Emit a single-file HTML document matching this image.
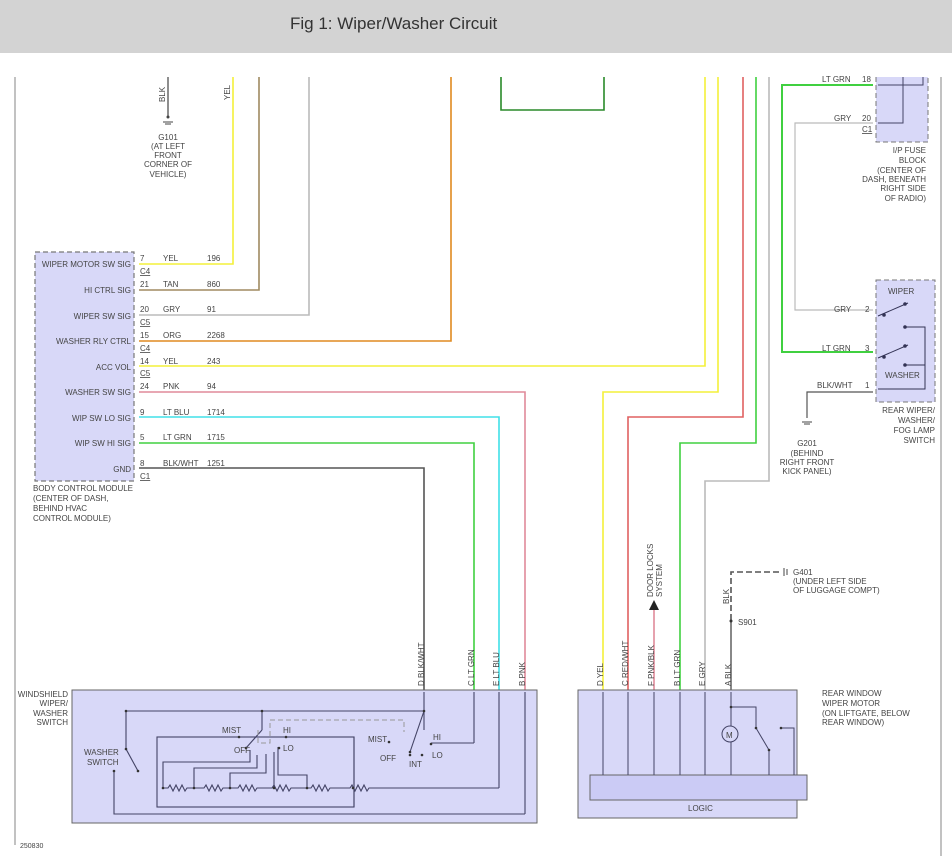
<!DOCTYPE html>
<html><head><meta charset="utf-8"><style>
html,body{margin:0;padding:0;background:#fff}
svg{display:block}
text{font-family:"Liberation Sans",sans-serif;font-size:8px;fill:#444}
</style></head><body>
<svg width="952" height="856" viewBox="0 0 952 856" xmlns="http://www.w3.org/2000/svg">
<rect x="0" y="0" width="952" height="53" fill="#d3d3d3"/>
<text x="290" y="29" style="font-size:17px;fill:#333">Fig 1: Wiper/Washer Circuit</text>
<line x1="15" y1="77" x2="15" y2="845" stroke="#999" stroke-width="1.2"/>
<line x1="941" y1="77" x2="941" y2="856" stroke="#999" stroke-width="1.2"/>
<line x1="168" y1="77" x2="168" y2="117" stroke="#444" stroke-width="1.2"/>
<text transform="translate(165,102) rotate(-90)">BLK</text>
<line x1="163" y1="122" x2="173" y2="122" stroke="#444"/><line x1="165" y1="124" x2="171" y2="124" stroke="#444"/><circle cx="168" cy="117" r="1.5" fill="#444"/>
<text x="168" y="140" text-anchor="middle">G101</text>
<text x="168" y="149" text-anchor="middle">(AT LEFT</text>
<text x="168" y="158" text-anchor="middle">FRONT</text>
<text x="168" y="167" text-anchor="middle">CORNER OF</text>
<text x="168" y="177" text-anchor="middle">VEHICLE)</text>
<text transform="translate(230,100) rotate(-90)">YEL</text>
<rect x="35" y="252" width="99" height="229" fill="#d8d8f8" stroke="#777" stroke-dasharray="5,3" stroke-width="1.2"/>
<g text-anchor="end">
<text x="131" y="267">WIPER MOTOR SW SIG</text>
<text x="131" y="293">HI CTRL SIG</text>
<text x="131" y="319">WIPER SW SIG</text>
<text x="131" y="344">WASHER RLY CTRL</text>
<text x="131" y="370">ACC VOL</text>
<text x="131" y="395">WASHER SW SIG</text>
<text x="131" y="421">WIP SW LO SIG</text>
<text x="131" y="446">WIP SW HI SIG</text>
<text x="131" y="472">GND</text>
</g>
<text x="33" y="491">BODY CONTROL MODULE</text>
<text x="33" y="501">(CENTER OF DASH,</text>
<text x="33" y="511">BEHIND HVAC</text>
<text x="33" y="521">CONTROL MODULE)</text>
<g>
<text x="140" y="261">7</text><text x="163" y="261">YEL</text><text x="207" y="261">196</text><text x="140" y="274" text-decoration="underline">C4</text>
<text x="140" y="287">21</text><text x="163" y="287">TAN</text><text x="207" y="287">860</text>
<text x="140" y="312">20</text><text x="163" y="312">GRY</text><text x="207" y="312">91</text><text x="140" y="325" text-decoration="underline">C5</text>
<text x="140" y="338">15</text><text x="163" y="338">ORG</text><text x="207" y="338">2268</text><text x="140" y="351" text-decoration="underline">C4</text>
<text x="140" y="364">14</text><text x="163" y="364">YEL</text><text x="207" y="364">243</text><text x="140" y="376" text-decoration="underline">C5</text>
<text x="140" y="389">24</text><text x="163" y="389">PNK</text><text x="207" y="389">94</text>
<text x="140" y="415">9</text><text x="163" y="415">LT BLU</text><text x="207" y="415">1714</text>
<text x="140" y="440">5</text><text x="163" y="440">LT GRN</text><text x="207" y="440">1715</text>
<text x="140" y="466">8</text><text x="163" y="466">BLK/WHT</text><text x="207" y="466">1251</text><text x="140" y="479" text-decoration="underline">C1</text>
</g>
<g fill="none" stroke-width="1.6">
<polyline points="233,77 233,264 139,264" stroke="#f3f03a"/>
<polyline points="259,77 259,290 139,290" stroke="#a08a60"/>
<polyline points="309,77 309,315 139,315" stroke="#bbb"/>
<polyline points="451,77 451,341 139,341" stroke="#e08a20"/>
<polyline points="705,77 705,366 139,366" stroke="#f3f03a"/>
<polyline points="525,690 525,392 139,392" stroke="#e08a9a"/>
<polyline points="499,690 499,417 139,417" stroke="#40e0e8"/>
<polyline points="474,690 474,443 139,443" stroke="#40d040"/>
<polyline points="424,690 424,468 139,468" stroke="#555"/>
<polyline points="718,77 718,392 603,392 603,690" stroke="#f3f03a"/>
<polyline points="743,77 743,417 628,417 628,690" stroke="#e06060"/>
<polyline points="756,77 756,443 680,443 680,690" stroke="#40d040"/>
<polyline points="769,77 769,481 705,481 705,690" stroke="#bbb"/>
<polyline points="873,85 782,85 782,352 873,352" stroke="#40d040" stroke-width="2"/>
<polyline points="873,123 795,123 795,310 873,310" stroke="#bbb" stroke-width="1.2"/>
<polyline points="501,77 501,110 604,110 604,77" stroke="#2a8a2a"/>
<line x1="654" y1="690" x2="654" y2="608" stroke="#e08a9a"/>
</g>
<polygon points="649,610 659,610 654,600" fill="#222"/>
<text transform="translate(653,597) rotate(-90)">DOOR LOCKS</text>
<text transform="translate(662,597) rotate(-90)">SYSTEM</text>
<rect x="876" y="77" width="52" height="65" fill="#d8d8f8"/>
<polyline points="876,77 876,142 928,142 928,77" fill="none" stroke="#777" stroke-dasharray="5,3"/>
<polyline points="878,85 923,85 923,77" fill="none" stroke="#446" />
<polyline points="878,123 903,123 903,77" fill="none" stroke="#446"/>
<text x="822" y="82">LT GRN</text><text x="862" y="82">18</text>
<text x="834" y="121">GRY</text><text x="862" y="121">20</text><text x="862" y="132" text-decoration="underline">C1</text>
<g text-anchor="end">
<text x="926" y="153">I/P FUSE</text><text x="926" y="163">BLOCK</text><text x="926" y="173">(CENTER OF</text><text x="926" y="182">DASH, BENEATH</text><text x="926" y="191">RIGHT SIDE</text><text x="926" y="201">OF RADIO)</text>
</g>
<rect x="876" y="280" width="59" height="122" fill="#d8d8f8" stroke="#777" stroke-dasharray="5,3"/>
<text x="888" y="294">WIPER</text><text x="885" y="378">WASHER</text>
<g stroke="#335" fill="#335">
<line x1="878" y1="316" x2="908" y2="303"/><circle cx="884" cy="315" r="1.3"/><circle cx="905" cy="304" r="1.3"/>
<line x1="878" y1="358" x2="908" y2="345"/><circle cx="884" cy="357" r="1.3"/><circle cx="905" cy="346" r="1.3"/>
<polyline points="905,327 925,327 925,389 878,389" fill="none"/><circle cx="905" cy="327" r="1.3"/>
<line x1="905" y1="365" x2="925" y2="365"/><circle cx="905" cy="365" r="1.3"/>
</g>
<text x="834" y="312">GRY</text><text x="865" y="312">2</text>
<text x="822" y="351">LT GRN</text><text x="865" y="351">3</text>
<text x="817" y="388">BLK/WHT</text><text x="865" y="388">1</text>
<polyline points="873,392 807,392 807,418" fill="none" stroke="#555" stroke-width="1.2"/>
<line x1="802" y1="422" x2="812" y2="422" stroke="#444"/><line x1="804" y1="424" x2="810" y2="424" stroke="#444"/>
<text x="807" y="446" text-anchor="middle">G201</text><text x="807" y="456" text-anchor="middle">(BEHIND</text><text x="807" y="465" text-anchor="middle">RIGHT FRONT</text><text x="807" y="474" text-anchor="middle">KICK PANEL)</text>
<g text-anchor="end"><text x="935" y="413">REAR WIPER/</text><text x="935" y="423">WASHER/</text><text x="935" y="433">FOG LAMP</text><text x="935" y="443">SWITCH</text></g>
<polyline points="731,690 731,620" stroke="#555" stroke-width="1.4" fill="none"/>
<polyline points="731,620 731,572 782,572" stroke="#555" stroke-width="1.6" stroke-dasharray="6,3" fill="none"/>
<line x1="784" y1="568" x2="784" y2="576" stroke="#444"/><line x1="787" y1="569" x2="787" y2="575" stroke="#444"/>
<circle cx="731" cy="621" r="1.5" fill="#333"/>
<text x="738" y="625">S901</text>
<text x="793" y="575">G401</text><text x="793" y="584">(UNDER LEFT SIDE</text><text x="793" y="593">OF LUGGAGE COMPT)</text>
<text transform="translate(729,604) rotate(-90)">BLK</text>
<rect x="578" y="690" width="219" height="128" fill="#d8d8f8" stroke="#666"/>
<rect x="590" y="775" width="217" height="25" fill="#cbcbf5" stroke="#666"/>
<text x="688" y="811">LOGIC</text>
<g stroke="#446" fill="none">
<line x1="603" y1="692" x2="603" y2="775"/><line x1="628" y1="692" x2="628" y2="775"/><line x1="654" y1="692" x2="654" y2="775"/><line x1="680" y1="692" x2="680" y2="775"/><line x1="705" y1="692" x2="705" y2="775"/><line x1="731" y1="692" x2="731" y2="775"/>
<polyline points="731,707 756,707 756,728 769,750 769,775"/>
<polyline points="781,728 794,728 794,775"/>
<circle cx="730" cy="734" r="8" fill="#d8d8f8"/>
</g>
<text x="726" y="738">M</text>
<g fill="#333"><circle cx="731" cy="707" r="1.3"/><circle cx="756" cy="728" r="1.3"/><circle cx="769" cy="750" r="1.3"/><circle cx="781" cy="728" r="1.3"/></g>
<g>
<text transform="translate(603,686) rotate(-90)">D  YEL</text>
<text transform="translate(628,686) rotate(-90)">C  RED/WHT</text>
<text transform="translate(654,686) rotate(-90)">F  PNK/BLK</text>
<text transform="translate(680,686) rotate(-90)">B  LT GRN</text>
<text transform="translate(705,686) rotate(-90)">E  GRY</text>
<text transform="translate(731,686) rotate(-90)">A  BLK</text>
</g>
<text x="822" y="696">REAR WINDOW</text><text x="822" y="706">WIPER MOTOR</text><text x="822" y="716">(ON LIFTGATE, BELOW</text><text x="822" y="725">REAR WINDOW)</text>
<rect x="72" y="690" width="465" height="133" fill="#d8d8f8" stroke="#666"/>
<g text-anchor="end"><text x="68" y="697">WINDSHIELD</text><text x="68" y="706">WIPER/</text><text x="68" y="716">WASHER</text><text x="68" y="725">SWITCH</text></g>
<g>
<text transform="translate(424,686) rotate(-90)">D  BLK/WHT</text>
<text transform="translate(474,686) rotate(-90)">C  LT GRN</text>
<text transform="translate(499,686) rotate(-90)">E  LT BLU</text>
<text transform="translate(525,686) rotate(-90)">B  PNK</text>
</g>
<g stroke="#446" fill="none" stroke-width="1.1">
<line x1="424" y1="692" x2="424" y2="730"/><line x1="474" y1="692" x2="474" y2="743"/><line x1="499" y1="692" x2="499" y2="788"/><line x1="525" y1="692" x2="525" y2="814"/>
<polyline points="126,749 126,711 424,711"/>
<line x1="126" y1="749" x2="138" y2="771"/>
<polyline points="114,771 114,814 525,814"/>
<line x1="262" y1="711" x2="262" y2="730"/><line x1="262" y1="730" x2="246" y2="748"/>
<line x1="424" y1="711" x2="410" y2="752"/>
<polyline points="431,743 474,743"/>
<rect x="157" y="737" width="197" height="70"/>
<polyline points="239,737 157,737"/><polyline points="286,737 354,737 354,807"/>
<polyline points="250,750 250,762 163,762 163,788"/>
<polyline points="257,755 257,768 194,768 194,788"/>
<polyline points="266,754 266,773 230,773 230,788"/>
<polyline points="274,752 274,788"/>
<polyline points="278,747 278,775 307,775 307,788"/>
<path d="M163,788 h5 l2,-3 l3,6 l3,-6 l3,6 l3,-6 l3,6 l2,-3 h17 l2,-3 l3,6 l3,-6 l3,6 l3,-6 l3,6 l2,-3 h15 l2,-3 l3,6 l3,-6 l3,6 l3,-6 l3,6 l2,-3 h15 l2,-3 l3,6 l3,-6 l3,6 l3,-6 l3,6 l2,-3 h20 l2,-3 l3,6 l3,-6 l3,6 l3,-6 l3,6 l2,-3 h20 l2,-3 l3,6 l3,-6 l3,6 l3,-6 l3,6 l2,-3 H499"/>
</g>
<polyline points="258,730 258,743 270,743 270,720 404,720 404,732" fill="none" stroke="#999" stroke-dasharray="5,3"/>
<g fill="#333"><circle cx="126" cy="711" r="1.3"/><circle cx="262" cy="711" r="1.3"/><circle cx="424" cy="711" r="1.3"/><circle cx="126" cy="749" r="1.3"/><circle cx="138" cy="771" r="1.3"/><circle cx="114" cy="771" r="1.3"/><circle cx="246" cy="748" r="1.3"/><circle cx="239" cy="737" r="1.3"/><circle cx="286" cy="737" r="1.3"/><circle cx="279" cy="748" r="1.3"/><circle cx="410" cy="752" r="1.3"/><circle cx="389" cy="742" r="1.3"/><circle cx="410" cy="755" r="1.3"/><circle cx="422" cy="755" r="1.3"/><circle cx="431" cy="744" r="1.3"/><circle cx="163" cy="788" r="1.3"/><circle cx="194" cy="788" r="1.3"/><circle cx="230" cy="788" r="1.3"/><circle cx="274" cy="788" r="1.3"/><circle cx="307" cy="788" r="1.3"/><circle cx="353" cy="788" r="1.3"/></g>
<text x="84" y="755">WASHER</text><text x="87" y="765">SWITCH</text>
<text x="222" y="733">MIST</text><text x="283" y="733">HI</text><text x="234" y="753">OFF</text><text x="283" y="751">LO</text>
<text x="368" y="742">MIST</text><text x="433" y="740">HI</text><text x="380" y="761">OFF</text><text x="409" y="767">INT</text><text x="432" y="758">LO</text>
<text x="20" y="848" style="font-size:7px">250830</text>
</svg>
</body></html>
